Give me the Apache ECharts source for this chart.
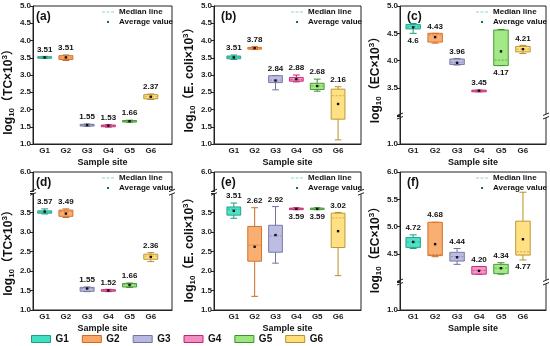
<!DOCTYPE html>
<html><head><meta charset="utf-8">
<script src="https://cdn.jsdelivr.net/npm/echarts@6/dist/echarts.min.js"></script>
<style>html,body{margin:0;padding:0;background:#fff}#c{width:550px;height:346px}</style>
</head><body><div id="c"></div>
<script>
// ---------- data ----------
const groups = ['G1', 'G2', 'G3', 'G4', 'G5', 'G6'];
const panelLetters = ['(a)', '(b)', '(c)', '(d)', '(e)', '(f)'];
const yNames = ['TC', 'E. coli', 'EC', 'TC', 'E. coli', 'EC'];
// box stats per group: [min, Q1, median, Q3, max, mean]
const statsA = [[3.48,3.49,3.51,3.53,3.54,3.51],[3.42,3.45,3.50,3.56,3.58,3.51],[1.51,1.52,1.55,1.57,1.58,1.55],[1.49,1.50,1.53,1.55,1.56,1.53],[1.63,1.64,1.66,1.68,1.69,1.66],[2.29,2.31,2.37,2.43,2.45,2.37]];
const statsB = [[3.45,3.47,3.51,3.55,3.58,3.51],[3.74,3.75,3.78,3.80,3.82,3.78],[2.57,2.78,2.85,2.98,2.98,2.84],[2.80,2.82,2.87,2.93,3.00,2.88],[2.53,2.58,2.68,2.76,2.88,2.68],[1.12,1.72,2.40,2.59,2.66,2.16]];
const statsC = [[4.50,4.58,4.62,4.66,4.68,4.61],[4.32,4.34,4.47,4.50,4.50,4.43],[3.92,3.93,3.97,4.03,4.04,3.96],[3.43,3.43,3.45,3.46,3.46,3.45],[3.91,3.91,4.01,4.56,4.57,4.17],[4.13,4.16,4.21,4.26,4.28,4.21]];
const statsD = [[3.46,3.48,3.51,3.54,3.59,3.52],[3.37,3.40,3.52,3.56,3.59,3.47],[1.47,1.48,1.55,1.58,1.59,1.55],[1.47,1.48,1.51,1.52,1.53,1.50],[1.58,1.59,1.65,1.68,1.69,1.64],[2.24,2.30,2.38,2.43,2.47,2.36]];
const statsE = [[3.35,3.43,3.58,3.64,3.74,3.54],[1.35,2.25,2.66,3.14,3.62,2.62],[2.20,2.48,2.90,3.17,3.65,2.92],[3.57,3.58,3.60,3.61,3.62,3.59],[3.57,3.58,3.60,3.61,3.62,3.59],[1.88,2.60,3.36,3.48,3.50,3.02]];
const statsF = [[4.60,4.62,4.72,4.80,4.85,4.72],[4.45,4.47,4.49,5.08,5.08,4.68],[4.31,4.37,4.45,4.53,4.60,4.44],[4.13,4.13,4.20,4.27,4.27,4.19],[4.13,4.14,4.24,4.31,4.34,4.24],[4.39,4.48,4.54,5.10,5.63,4.77]];
const labelsA = ['3.51','3.51','1.55','1.53','1.66','2.37'];
const labelsB = ['3.51','3.78','2.84','2.88','2.68','2.16'];
const labelsC = ['4.6','4.43','3.96','3.45','4.17','4.21'];
const labelsD = ['3.57','3.49','1.55','1.52','1.66','2.36'];
const labelsE = ['3.51','2.62','2.92','3.59','3.59','3.02'];
const labelsF = ['4.72','4.68','4.44','4.20','4.34','4.77'];
// label side: 'up' above the whisker, 'down' below it
const sideA = ['up','up','up','up','up','up'];
const sideB = ['up','up','up','up','up','up'];
const sideC = ['down','up','up','up','down','up'];
const sideD = ['up','up','up','up','up','up'];
const sideE = ['up','up','up','down','down','up'];
const sideF = ['up','up','up','up','up','down'];
// axis ranges, breaks and shown tick labels
const xRanges = [[0.45,7.0],[0.05,7.1],[0.4,7.05],[0.45,7.0],[0.05,7.1],[0.4,7.05]];
const yRanges = [[1,5],[1,5],[1,5],[1,6],[1,6],[1,6]];
const yBreaks = [null, null, [1.5,3.0], [4.0,5.5], [4.0,5.5], [1.5,4.0]];
const yTicksA = [1.0,1.5,2.0,2.5,3.0,3.5,4.0,4.5,5.0];
const yTicksC = [1.0,3.5,4.0,4.5,5.0];
const yTicksD = [1.0,1.5,2.0,2.5,3.0,3.5,6.0];
const yTicksF = [1.0,4.5,5.0,5.5,6.0];

const allStats = [statsA, statsB, statsC, statsD, statsE, statsF];
const allLabels = [labelsA, labelsB, labelsC, labelsD, labelsE, labelsF];
const allSides = [sideA, sideB, sideC, sideD, sideE, sideF];
const allTicks = [yTicksA, yTicksA, yTicksC, yTicksD, yTicksD, yTicksF];

// ---------- styles ----------
const fillColors = ['#3fe0c2', '#f9a766', '#b7b7e2', '#f48cc4', '#9be77c', '#ffdd78'];
const edgeColors = ['#1f9c84', '#cf6a22', '#72729e', '#c0256f', '#3e9030', '#b88f2a'];
const FONT = '"Liberation Sans", Arial, "Noto Sans CJK SC", sans-serif';
const grids = [
  {left: 29, top: 6, width: 143, height: 138},
  {left: 214, top: 6, width: 147, height: 138},
  {left: 400, top: 6, width: 146, height: 138},
  {left: 29, top: 172, width: 143, height: 138},
  {left: 214, top: 172, width: 147, height: 138},
  {left: 400, top: 172, width: 146, height: 138}
];
const nameShift = [14, 2, 2, 9, 6, 6];
const nameGaps = [13, 15, 13, 13, 15, 13];

function makeRender(p, g) {
  return function (params, api) {
    const x = api.value(0);
    const mn = api.value(1), q1 = api.value(2), md = api.value(3), q3 = api.value(4), mx = api.value(5), av = api.value(6);
    const tl = api.coord([x - 0.33, q3]);
    const br = api.coord([x + 0.33, q1]);
    const capL = api.coord([x - 0.16, mx])[0], capR = api.coord([x + 0.16, mx])[0];
    const cx = api.coord([x, md])[0];
    const yMin = api.coord([x, mn])[1], yMax = api.coord([x, mx])[1];
    const yMed = api.coord([x, md])[1], yAv = api.coord([x, av])[1];
    const stroke = edgeColors[g], fill = fillColors[g];
    const ls = {stroke: stroke, lineWidth: 1};
    const h = Math.max(br[1] - tl[1], 1.5);
    const up = allSides[p][g] === 'up';
    return {type: 'group', children: [
      {type: 'line', shape: {x1: cx, y1: yMax, x2: cx, y2: tl[1]}, style: ls},
      {type: 'line', shape: {x1: cx, y1: br[1], x2: cx, y2: yMin}, style: ls},
      {type: 'line', shape: {x1: capL, y1: yMax, x2: capR, y2: yMax}, style: ls},
      {type: 'line', shape: {x1: capL, y1: yMin, x2: capR, y2: yMin}, style: ls},
      {type: 'rect', shape: {x: tl[0], y: tl[1], width: br[0] - tl[0], height: h}, style: {fill: fill, stroke: stroke, lineWidth: 1, opacity: 0.92}},
      {type: 'line', shape: {x1: tl[0] + 1, y1: yMed, x2: br[0] - 1, y2: yMed}, style: {stroke: stroke, lineWidth: 0.8, lineDash: [2, 1.5], opacity: 0.8}},
      {type: 'rect', shape: {x: cx - 1.2, y: yAv - 1.2, width: 2.4, height: 2.4}, style: {fill: '#111'}},
      {type: 'text', style: {text: allLabels[p][g], x: cx, y: up ? yMax - 3 : yMin + 3, align: 'center', verticalAlign: up ? 'bottom' : 'top', font: 'bold 8px ' + FONT, fill: '#111'}}
    ]};
  };
}

const option = {
  animation: false,
  backgroundColor: '#fff',
  grid: grids.map(g => Object.assign({show: true, borderColor: '#222', borderWidth: 1, backgroundColor: 'transparent'}, g)),
  title: grids.map((g, p) => ({text: panelLetters[p], left: g.left + 7, top: g.top + 5, padding: 0, textStyle: {fontSize: 12, fontWeight: 'bold', color: '#111', fontFamily: FONT}})),
  xAxis: grids.map((g, p) => ({
    type: 'value', gridIndex: p, min: xRanges[p][0], max: xRanges[p][1],
    name: 'Sample site', nameLocation: 'middle', nameGap: 14,
    nameTextStyle: {fontSize: 9, fontWeight: 'bold', color: '#111', fontFamily: FONT},
    axisLine: {show: true, lineStyle: {color: '#222', width: 1}},
    axisTick: {show: false},
    splitLine: {show: false},
    axisLabel: {customValues: [1, 2, 3, 4, 5, 6], formatter: v => groups[Math.round(v) - 1], fontSize: 8, fontWeight: 'bold', color: '#222', margin: 3, fontFamily: FONT}
  })),
  yAxis: grids.map((g, p) => {
    const ax = {
      type: 'value', gridIndex: p, min: yRanges[p][0], max: yRanges[p][1], interval: 0.5,
      name: '{t|log}{s|10}{t|（' + yNames[p] + '×10}{u|3}{t|）}',
      nameLocation: 'middle', nameGap: nameGaps[p],
      nameTextStyle: {padding: [0, 2 * nameShift[p], 0, 0], rich: {
        t: {fontSize: 12, fontWeight: 'bold', color: '#111', fontFamily: FONT, lineHeight: 15},
        s: {fontSize: 8, fontWeight: 'bold', color: '#111', fontFamily: FONT, lineHeight: 9, verticalAlign: 'bottom'},
        u: {fontSize: 8, fontWeight: 'bold', color: '#111', fontFamily: FONT, lineHeight: 9, verticalAlign: 'top'}
      }},
      axisLine: {show: true, lineStyle: {color: '#222', width: 1}},
      axisTick: {show: true, length: 3, lineStyle: {color: '#222'}},
      splitLine: {show: false},
      axisLabel: {fontSize: 8, fontWeight: 'bold', color: '#222', margin: 2, fontFamily: FONT,
        formatter: v => allTicks[p].some(t => Math.abs(t - v) < 1e-6) ? v.toFixed(1) : ''}
    };
    if (yBreaks[p]) {
      ax.breaks = [{start: yBreaks[p][0], end: yBreaks[p][1], gap: '1%'}];
      ax.breakArea = {show: false};
    }
    return ax;
  }),
  legend: grids.map((g, p) => ({
    orient: 'vertical', right: 550 - (g.left + g.width) - 1, top: g.top + 2, padding: 0,
    itemWidth: 12, itemHeight: 6, itemGap: 2, selectedMode: false,
    textStyle: {fontSize: 8, fontWeight: 'bold', color: '#111', fontFamily: FONT},
    data: [
      {name: 'Median line', icon: 'path://M0,0M12,6M0,2.5h3v1h-3zM4.5,2.5h3v1h-3zM9,2.5h3v1h-3z', itemStyle: {color: '#8fd6c6', borderWidth: 0}},
      {name: 'Average value', icon: 'path://M0,0M12,6M5,2h2v2h-2z', itemStyle: {color: '#0d6b55', borderWidth: 0}}
    ]
  })).concat([{
    orient: 'horizontal', left: 31, top: 334, padding: 0,
    itemWidth: 19, itemHeight: 7, itemGap: 13, selectedMode: false,
    textStyle: {fontSize: 10, fontWeight: 'bold', color: '#111', fontFamily: FONT},
    data: groups.map((n, i) => ({name: n, icon: 'rect', itemStyle: {color: fillColors[i], borderColor: edgeColors[i], borderWidth: 1}}))
  }]),
  series: []
};

allStats.forEach((stats, p) => {
  stats.forEach((s, g) => {
    option.series.push({
      type: 'custom', name: groups[g], xAxisIndex: p, yAxisIndex: p,
      itemStyle: {color: fillColors[g], borderColor: edgeColors[g]},
      renderItem: makeRender(p, g),
      data: [[g + 1].concat(s)]
    });
  });
});
option.series.push({type: 'line', name: 'Median line', data: [], xAxisIndex: 0, yAxisIndex: 0});
option.series.push({type: 'line', name: 'Average value', data: [], xAxisIndex: 0, yAxisIndex: 0});

const chart = echarts.init(document.getElementById('c'), null, {renderer: 'canvas'});
chart.setOption(option);

// small break marks on both frame edges, located through the axes
const marks = [];
yBreaks.forEach((b, p) => {
  if (!b) return;
  const yPix = chart.convertToPixel({yAxisIndex: p}, (b[0] + b[1]) / 2);
  const xl = chart.convertToPixel({xAxisIndex: p}, xRanges[p][0]);
  const xr = chart.convertToPixel({xAxisIndex: p}, xRanges[p][1]);
  [xl, xr].forEach(x => {
    marks.push({type: 'group', x: x, y: yPix, z: 100, children: [
      {type: 'rect', shape: {x: -3, y: -2, width: 6, height: 4}, style: {fill: '#fff'}},
      {type: 'line', shape: {x1: -3, y1: -0.5, x2: 3, y2: -3}, style: {stroke: '#222', lineWidth: 1}},
      {type: 'line', shape: {x1: -3, y1: 3, x2: 3, y2: 0.5}, style: {stroke: '#222', lineWidth: 1}}
    ]});
  });
});
chart.setOption({graphic: marks});
</script></body></html>
